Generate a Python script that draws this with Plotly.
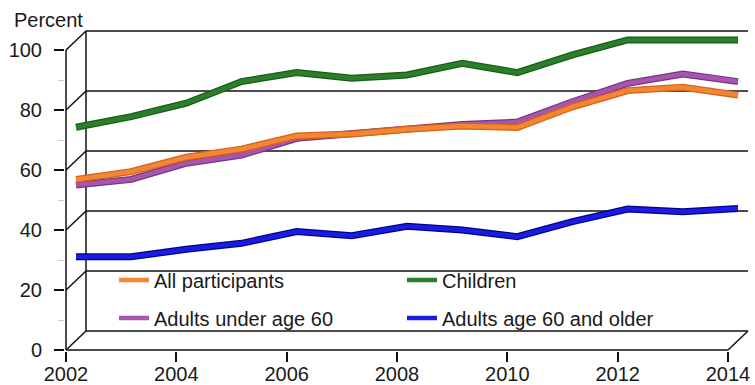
import plotly.graph_objects as go

# ---------------- data ----------------
YEARS = list(range(2002, 2015))
ALL_PARTICIPANTS = [53.7, 56.3, 61.1, 63.8, 68.2, 68.8, 70.4, 71.5, 71.0, 77.9, 83.3, 84.4, 81.8]
CHILDREN = [71.1, 74.6, 79.1, 86.3, 89.3, 87.4, 88.5, 92.4, 89.3, 95.2, 100.2, 100.2, 100.2]
ADULTS_UNDER_60 = [51.8, 53.7, 59.1, 61.8, 67.4, 68.8, 70.4, 72.0, 72.8, 79.6, 85.7, 88.8, 86.3]
ADULTS_60_OLDER = [27.9, 27.9, 30.4, 32.4, 36.3, 34.9, 38.1, 36.8, 34.6, 39.6, 43.8, 42.9, 44.0]

X_TICKS = [2002, 2004, 2006, 2008, 2010, 2012, 2014]
Y_TICKS = [0, 20, 40, 60, 80, 100]
Y_MINOR = [10, 30, 50, 70, 90]

# ---------------- geometry ----------------
W, H = 755, 385
ML, MR, MT, MB = 65, 6, 30, 34
PLOT_W = W - ML - MR
PLOT_H = H - MT - MB
PX_PER_YEAR = 662 / 12
PX_PER_PCT = 3.0
DX = 20 / PX_PER_YEAR          # depth offset (years)
DY = 19 / PX_PER_PCT           # depth offset (percent)
PAD_X = 1 / PX_PER_YEAR
PAD_Y = 1 / PX_PER_PCT
LINE_DEPTH = 0.5
X0, X1 = YEARS[0], YEARS[-1]
Y0, Y1 = Y_TICKS[0], Y_TICKS[-1]

fig = go.Figure()

# ---------------- 3D frame ----------------
fx, fy = [], []
def seg(xa, ya, xb, yb):
    fx.extend([xa, xb, None]); fy.extend([ya, yb, None])

for v in Y_TICKS:
    seg(X0 + DX, v + DY, X1 + DX, v + DY)       # back wall gridline
    seg(X0, v, X0 + DX, v + DY)                 # side diagonal
seg(X0 + DX, Y0 + DY, X0 + DX, Y1 + DY)         # back wall left edge
seg(X0, Y0, X0, Y1)                             # front left axis
seg(X0, Y0, X1, Y0)                             # front bottom axis
seg(X1, Y0, X1 + DX, Y0 + DY)                   # right floor diagonal

fig.add_trace(go.Scatter(x=fx, y=fy, mode="lines",
                         line=dict(color="#111111", width=1.5),
                         hoverinfo="skip", showlegend=False))

# ---------------- series ----------------
series = [
    # name, values, outline, inner, legend, rank
    ("Adults age 60 and older", ADULTS_60_OLDER, "#00008c", "#1c1ce0", "legend2", 4),
    ("Children", CHILDREN, "#1a5a1a", "#2b7f2b", "legend", 2),
    ("Adults under age 60", ADULTS_UNDER_60, "#74387f", "#a855ad", "legend2", 3),
    ("All participants", ALL_PARTICIPANTS, "#d2621c", "#f58530", "legend", 1),
]
for name, vals, c_out, c_in, leg, rank in series:
    xs = [yr + LINE_DEPTH * DX for yr in YEARS]
    ys = [v + LINE_DEPTH * DY for v in vals]
    fig.add_trace(go.Scatter(x=xs, y=ys, mode="lines",
                             line=dict(color=c_out, width=7),
                             hoverinfo="skip", showlegend=False))
    fig.add_trace(go.Scatter(x=xs, y=ys, mode="lines", name=name,
                             line=dict(color=c_in, width=4.5),
                             legend=leg, legendrank=rank))

FONT = "Liberation Sans, Arial, sans-serif"
LEG_X = (114 - ML) / PLOT_W

fig.update_layout(
    width=W, height=H,
    margin=dict(l=ML, r=MR, t=MT, b=MB, pad=0, autoexpand=False),
    paper_bgcolor="white", plot_bgcolor="white",
    font=dict(family=FONT, size=20, color="#1a1a1a"),
    xaxis=dict(range=[X0 - PAD_X, X1 + DX + PAD_X], tickvals=X_TICKS,
               ticks="outside", ticklen=10, tickwidth=1.5, tickcolor="#111",
               showgrid=False, zeroline=False, showline=False,
               automargin=False, ticklabelstandoff=-5,
               tickfont=dict(size=20, family=FONT, color="#1a1a1a")),
    yaxis=dict(range=[Y0 - PAD_Y, Y1 + DY + PAD_Y], tickvals=Y_TICKS,
               ticks="outside", ticklen=10, tickwidth=1.5, tickcolor="#111",
               showgrid=False, zeroline=False, showline=False,
               automargin=False, ticklabelstandoff=8,
               minor=dict(tickvals=Y_MINOR, ticks="outside", ticklen=6,
                          tickcolor="#cccccc", tickwidth=1),
               tickfont=dict(size=20, family=FONT, color="#1a1a1a")),
    legend=dict(orientation="h", x=LEG_X, xanchor="left",
                y=(H - MB - 280) / PLOT_H, yanchor="middle",
                entrywidth=243, entrywidthmode="pixels",
                bgcolor="rgba(0,0,0,0)", font=dict(size=20, family=FONT),
                traceorder="normal"),
    legend2=dict(orientation="h", x=LEG_X, xanchor="left",
                 y=(H - MB - 318) / PLOT_H, yanchor="middle",
                 entrywidth=243, entrywidthmode="pixels",
                 bgcolor="rgba(0,0,0,0)", font=dict(size=20, family=FONT),
                 traceorder="normal"),
    annotations=[dict(text="Percent", xref="paper", yref="paper",
                      x=(12 - ML) / PLOT_W, y=(H - MB - 20) / PLOT_H,
                      xanchor="left", yanchor="middle", showarrow=False,
                      font=dict(size=20, family=FONT, color="#1a1a1a"))],
)

fig.write_html("out.html")
